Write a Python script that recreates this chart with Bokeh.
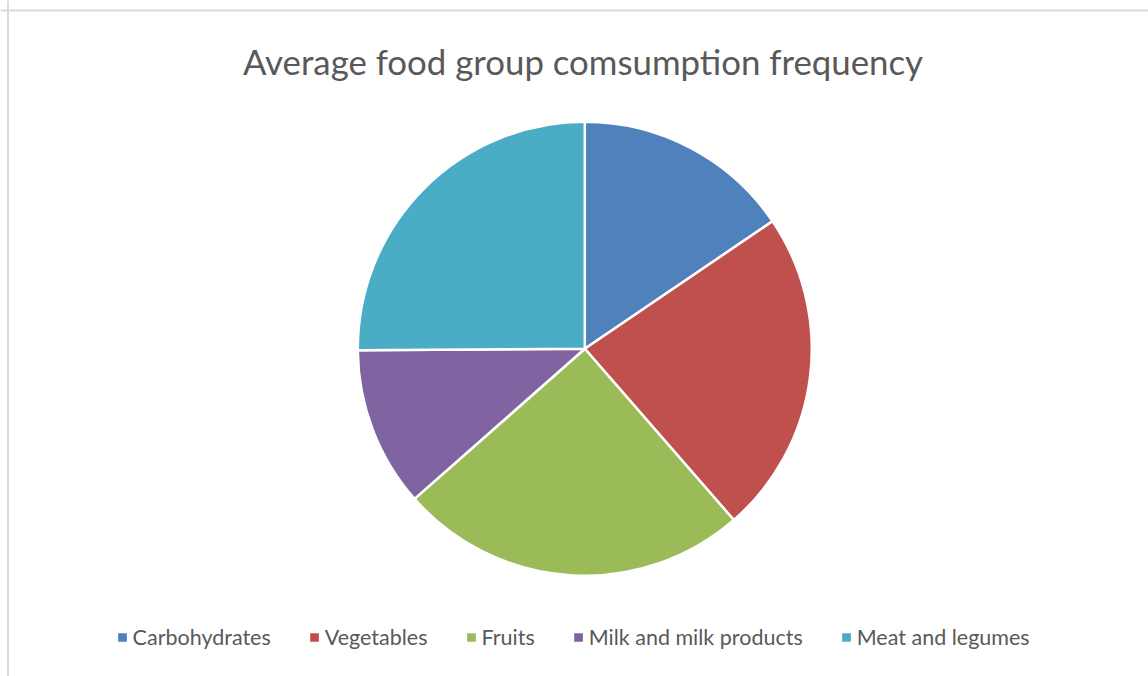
import math
from bokeh.plotting import figure
from bokeh.models import ColumnDataSource, Range1d, Span, Label
from bokeh.embed import file_html
from bokeh.resources import INLINE

TITLE = "Average food group comsumption frequency"
categories = ["Carbohydrates", "Vegetables", "Fruits", "Milk and milk products", "Meat and legumes"]
values = [15.5, 23.1, 24.9, 11.4, 25.1]
colors = ["#4F81BD", "#C0504D", "#9BBB59", "#8064A2", "#4BACC6"]

W, H = 1148, 676
CX, CY, R = 584.3, H - 348.3, 227

total = sum(values)
starts, ends = [], []
acc = 0.0
for v in values:
    a0 = math.pi / 2 - 2 * math.pi * acc / total
    acc += v
    a1 = math.pi / 2 - 2 * math.pi * acc / total
    starts.append(a0)
    ends.append(a1)

src = ColumnDataSource(dict(category=categories, value=values, color=colors,
                            start=starts, end=ends))

p = figure(width=W, height=H, output_backend="svg", toolbar_location=None,
           x_range=Range1d(0, W), y_range=Range1d(0, H),
           x_axis_type=None, y_axis_type=None, min_border=0)
p.outline_line_color = None
p.grid.visible = False

p.wedge(x=CX, y=CY, radius=R, start_angle="start", end_angle="end", direction="clock",
        fill_color="color", line_color="white", line_width=2.5, source=src,
        legend_field="category")

p.add_layout(Span(location=H - 10, dimension="width", line_color="#d9d9d9", line_width=2))
p.add_layout(Span(location=7.5, dimension="height", line_color="#d9d9d9", line_width=2))

p.add_layout(Label(x=582.5, y=H - 61, text=TITLE, text_align="center",
                   text_baseline="middle", text_font="Lato", text_font_size="34.8px",
                   text_color="#595959"))

lg = p.legend[0]
lg.orientation = "horizontal"
lg.location = (114.6, 26.5)
lg.padding = 0
lg.margin = 0
lg.border_line_alpha = 0
lg.background_fill_alpha = 0
lg.glyph_width = 14
lg.glyph_height = 14
lg.label_standoff = 4
lg.spacing = 36
lg.label_text_font = "Lato"
lg.label_text_font_size = "21.5px"
lg.label_text_color = "#595959"

open("out.html", "w").write(file_html(p, INLINE))
